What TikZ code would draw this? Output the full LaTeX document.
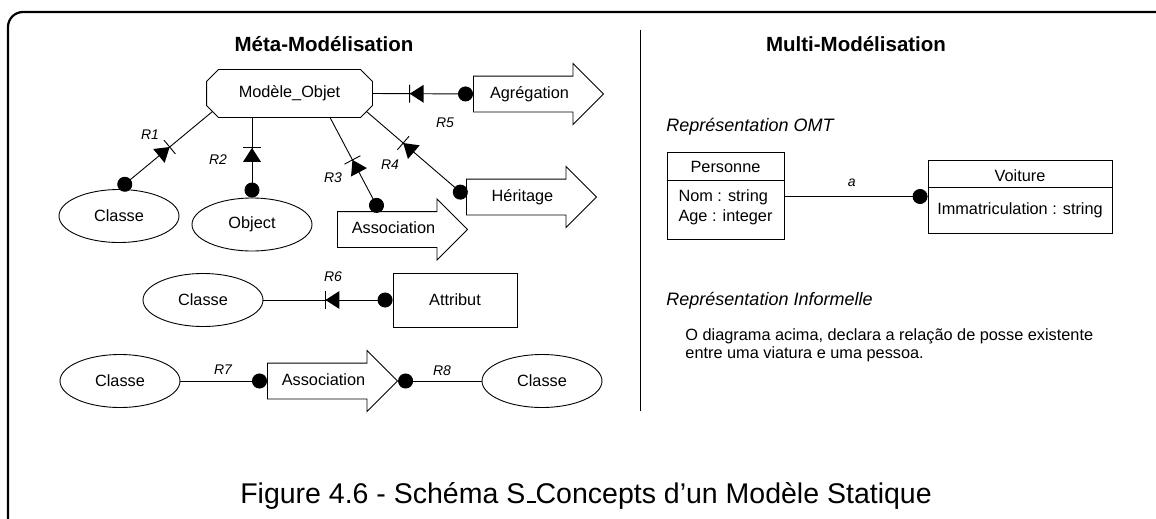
\documentclass[tikz,border=0pt]{standalone}
\usepackage{fontspec}
\setmainfont{Liberation Sans}
\usetikzlibrary{positioning, calc, arrows.meta, shapes.geometric, shapes.arrows, decorations.markings}
\tikzset{
every node/.style={font=\fontsize{16.3}{19}\selectfont, inner sep=0pt},
entity/.style={draw, ellipse, minimum width=120pt, minimum height=53pt},
model/.style={rectangle, minimum width=165pt, minimum height=47pt},
concept/.style={draw, single arrow, single arrow tip angle=90, single arrow head extend=12.5pt,
  minimum height=130pt, text height=12pt, text depth=3.5pt, inner ysep=9.75pt, inner xsep=0pt, anchor=tail},
attr/.style={draw, rectangle, minimum width=124pt, minimum height=54pt},
umlbox/.style={draw, rectangle},
rlabel/.style={font=\itshape\fontsize{14}{16}\selectfont},
heading/.style={font=\bfseries\fontsize{20.5}{24}\selectfont},
subhead/.style={font=\itshape\fontsize{18}{21}\selectfont, anchor=west},
link/.style={-{Circle[length=15pt]}},
rel/.style={link, decoration={markings, mark=at position #1 with {
    \fill[-] (0,0) -- (14pt,9pt) -- (14pt,-9pt) -- cycle;
    \draw[-] (0,-9pt) -- (0,9pt);}}, postaction={decorate}},
}

\begin{document}
\begin{tikzpicture}[x=1pt, y=-1pt, line width=0.9pt]
    \useasboundingbox (0,0) rectangle (1156,519);

    % frame and separator
    \draw[line width=2.2pt, rounded corners=15pt] (8,519) -- (8,12) -- (1156,12);
    \draw (640,30) -- (640,411);

    % headings
    \node[heading] (meta)  at (324,44) {Méta-Modélisation};
    \node[heading] (multi) at (856,44) {Multi-Modélisation};

    %meta-model around Modele_Objet
    \node[model]      (mo) at (289.5,93.5) {Modèle\textunderscore Objet};
    \draw ([xshift=12pt]mo.north west) -- ([xshift=-12pt]mo.north east)
       -- ([yshift=-12pt]mo.north east) -- ([yshift=12pt]mo.south east)
       -- ([xshift=-12pt]mo.south east) -- ([xshift=12pt]mo.south west)
       -- ([yshift=12pt]mo.south west) -- ([yshift=-12pt]mo.north west) -- cycle;
    \node[concept]   (agr) at (473,94) {Agrégation};
    \node[concept]   (her) at (466,197) {Héritage};
    \node[concept]  (ass1) at (337,229.5) {Association};
    \node[entity]    (cl1) at (119,216) {Classe};
    \node[entity]    (obj) at (252,224.5) {Object};

    %row with Attribut
    \node[entity]    (cl2) at (203,300) {Classe};
    \node[attr]      (att) at (455,300) {Attribut};

    %row with Association
    \node[entity]    (cl3) at (120,381) {Classe};
    \node[concept]  (ass2) at (267,381) {Association};
    \node[entity]    (cl4) at (542,381) {Classe};

    % relations R1..R8
    \draw[rel=0.46] ([xshift=6pt,yshift=6pt]mo.south west) -- (cl1.north);
    \draw[rel=0.38] (obj.north |- mo.south) -- (obj.north);
    \draw[rel=0.45] ($(mo.south)+(40.5,0)$) -- ($(ass1.tail)+(43,-17.5)$);
    \draw[rel=0.37] ([xshift=-6pt,yshift=6pt]mo.south east) -- (her.tail);
    \draw[rel=0.37] (mo.east) -- (agr.tail);
    \draw[rel=0.48] (cl2.east) -- (att.west);
    \draw[link] (cl3.east) -- (ass2.tail);
    \draw[link] (cl4.west) -- (ass2.tip);

    \node[rlabel] (r1) at (150,135) {R1};
    \node[rlabel] (r2) at (218,160) {R2};
    \node[rlabel] (r3) at (333,178) {R3};
    \node[rlabel] (r4) at (390,165) {R4};
    \node[rlabel] (r5) at (445,123) {R5};
    \node[rlabel] (r6) at (333,277) {R6};
    \node[rlabel] (r7) at (223,370) {R7};
    \node[rlabel] (r8) at (442,371) {R8};

    % OMT representation
    \node[subhead] (omt) at (666,127) {Représentation OMT};
    \node[umlbox, minimum width=117pt, minimum height=87pt] (pers) at (725.5,195.5) {};
    \node (persn) at (725.5,166.5) {Personne};
    \node[align=left, font=\fontsize{16.3}{20}\selectfont] (persa) at (725.5,207) {Nom : string\\Age : integer};
    \draw ([yshift=-29pt]pers.north west) -- ([yshift=-29pt]pers.north east);
    \node[umlbox, minimum width=184pt, minimum height=73pt] (voit) at (1020,196.5) {};
    \node (voitn) at (1020,176) {Voiture};
    \node (voita) at (1020,210) {Immatriculation : string};
    \draw ([yshift=-28pt]voit.north west) -- ([yshift=-28pt]voit.north east);
    \draw[link] (pers.east |- voit.west) -- node[rlabel, pos=0.47, above=9pt] (a) {a} (voit.west);

    % informal representation
    \node[subhead] (inf) at (666,301) {Représentation Informelle};
    \node[align=left, anchor=north west, font=\fontsize{16.3}{18.5}\selectfont] (txt) at (685,328)
        {O diagrama acima, declara a relação de posse existente\\entre uma viatura e uma pessoa.};

    % caption
    \node[anchor=base, font=\fontsize{28.5}{34}\selectfont] (cap) at (586,503)
        {Figure 4.6 - Schéma S\kern.06em\rule{.3em}{.08em}Concepts d’un Modèle Statique};
\end{tikzpicture}
\end{document}
